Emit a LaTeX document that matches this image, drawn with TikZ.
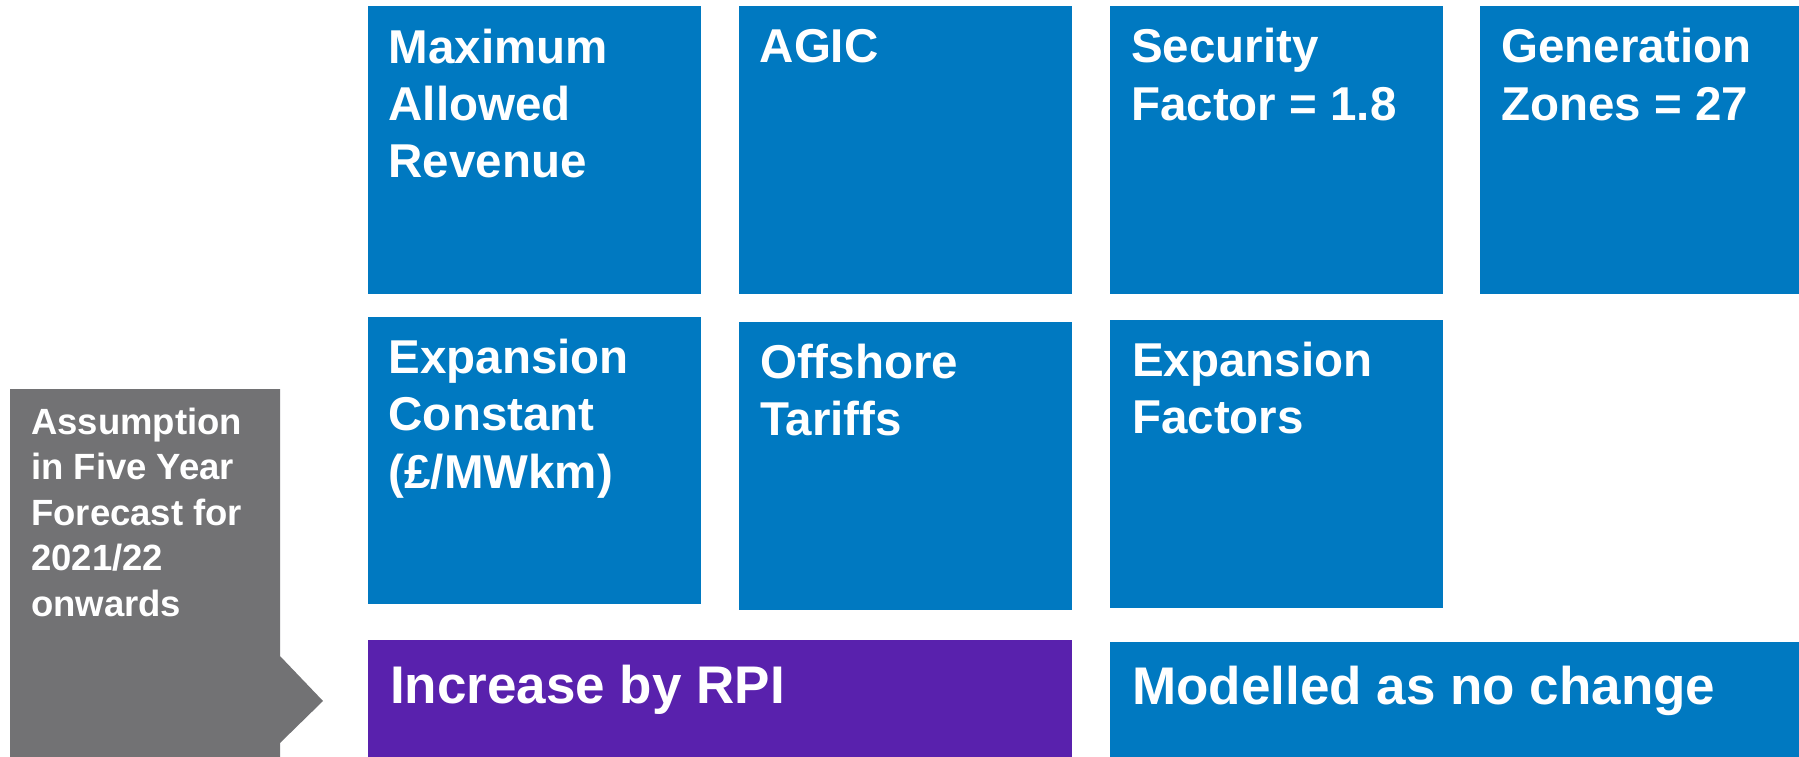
\documentclass[tikz,border=0pt]{standalone}
\usepackage{fontspec}
\setmainfont{Liberation Sans}
\definecolor{ngblue}{RGB}{0,121,193}
\definecolor{ngpurple}{RGB}{89,33,173}
\definecolor{nggrey}{RGB}{114,114,116}
\begin{document}
\begin{tikzpicture}[x=1pt,y=-1pt,
  tile/.style={rectangle, draw=none, inner sep=0pt, outer sep=0pt, anchor=north west},
  bluetile/.style={tile, fill=ngblue},
  purpletile/.style={tile, fill=ngpurple},
  % multi-line labels are placed by the baseline of their last line
  tiletext/.style={anchor=base west, inner sep=0pt, text=white, align=left,
    font=\fontsize{47.5}{57.5}\selectfont\bfseries},
  bandtext/.style={anchor=base west, inner sep=0pt, text=white,
    font=\fontsize{53}{60}\selectfont\bfseries},
  sidetext/.style={anchor=base west, inner sep=0pt, text=white, align=left,
    font=\fontsize{36.5}{45.5}\selectfont\bfseries}]
\useasboundingbox (0,0) rectangle (1799,757);

% grey side label with arrow notch
\fill[nggrey] (10,389) -- (280,389) -- (280,656) -- (323,701) -- (280,743)
  -- (280,757) -- (10,757) -- cycle;
\node[sidetext] (sideT) at (31,616) {Assumption\\in Five Year\\Forecast for\\2021/22\\onwards};

% top row
\node[bluetile, minimum width=333, minimum height=288] (mar) at (368,6) {};
\node[tiletext] (marT) at (388.5,178) {Maximum\\Allowed\\Revenue};
\node[bluetile, minimum width=333, minimum height=288] (agic) at (739,6) {};
\node[tiletext] (agicT) at (759.5,63) {AGIC};
\node[bluetile, minimum width=333, minimum height=288] (sec) at (1110,6) {};
\node[tiletext] (secT) at (1131,120.5) {Security\\Factor = 1.8};
\node[bluetile, minimum width=319, minimum height=288] (gen) at (1480,6) {};
\node[tiletext] (genT) at (1501,120.5) {Generation\\Zones = 27};

% second row
\node[bluetile, minimum width=333, minimum height=287] (expc) at (368,317) {};
\node[tiletext] (expcT) at (388.5,488) {Expansion\\Constant\\(£/MWkm)};
\node[bluetile, minimum width=333, minimum height=288] (off) at (739,322) {};
\node[tiletext] (offT) at (760,435.5) {Offshore\\Tariffs};
\node[bluetile, minimum width=333, minimum height=288] (expf) at (1110,320) {};
\node[tiletext] (expfT) at (1132,433.5) {Expansion\\Factors};

% bottom bands
\node[purpletile, minimum width=704, minimum height=117] (rpi) at (368,640) {};
\node[bandtext] (rpiT) at (390,703) {Increase by RPI};
\node[bluetile, minimum width=689, minimum height=115] (mod) at (1110,642) {};
\node[bandtext] (modT) at (1132,704) {Modelled as no change};
\end{tikzpicture}
\end{document}
